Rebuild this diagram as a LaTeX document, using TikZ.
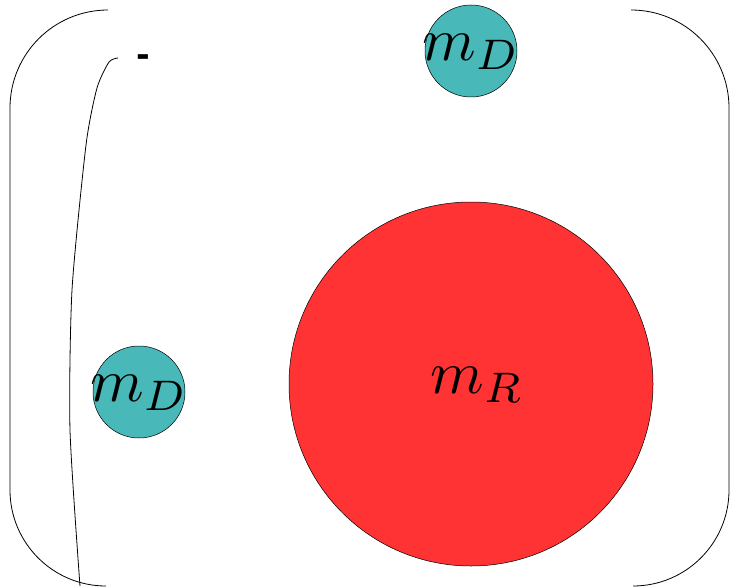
\documentclass[tikz,border=0pt]{standalone}
\usepackage{fontspec}
\newfontfamily\dashfont{DejaVu Sans}
\begin{document}
\begin{tikzpicture}[x=1pt,y=-1pt,
  bracketline/.style={draw=black,line width=0.8pt},
  dball/.style={circle,draw=black,line width=0.5pt,fill=tealc,inner sep=0pt,minimum size=92pt},
  rball/.style={circle,draw=black,line width=0.5pt,fill=redc,inner sep=0pt,minimum size=364pt},
  masslabel/.style={scale=6.1,inner sep=0pt}]
\definecolor{tealc}{HTML}{48B8B8}
\definecolor{redc}{HTML}{FF3333}
\useasboundingbox (0,0) rectangle (730,588);
% brackets
\draw[bracketline] (108,10) arc[start angle=-90,end angle=-180,radius=98] -- (10,490) arc[start angle=180,end angle=90,radius=96];
\draw[bracketline] (631,10) arc[start angle=-90,end angle=0,radius=98] -- (729,490) arc[start angle=0,end angle=90,radius=96];
% curve
\draw[line width=0.8pt] plot[smooth,tension=0.4] coordinates {(118,58) (109,62) (97,88) (86,145) (72,290) (70,430) (80,586)};
% dash
\node[font=\dashfont\bfseries\fontsize{33}{33}\selectfont,inner sep=0pt] (dash) at (143,61) {-};
% balls
\node[dball] (d1) at (471,51) {};
\node[dball] (d2) at (139,392) {};
\node[rball] (r) at (471,384) {};
\node[masslabel] (l1) at (471,52) {$m_D$};
\node[masslabel] (l2) at (139,393) {$m_D$};
\node[masslabel] (l3) at (477,385) {$m_R$};
\end{tikzpicture}
\end{document}
